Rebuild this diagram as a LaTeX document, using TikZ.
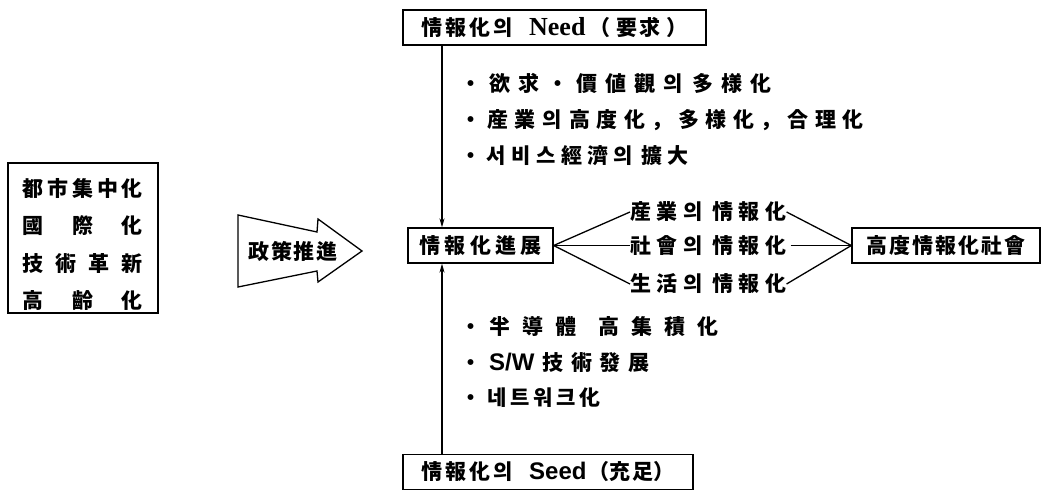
\documentclass[tikz,border=0pt]{standalone}
\usepackage{fontspec}
\setmainfont{Noto Sans CJK KR}
\newfontfamily\lserif{Liberation Serif}
\newfontfamily\lsans{Liberation Sans}
\usetikzlibrary{arrows.meta}
\newcommand{\ls}[1]{\addfontfeatures{LetterSpace=#1}}
\begin{document}
\begin{tikzpicture}[x=1pt,y=-1pt,
  txt/.style={inner sep=0pt,font=\fontsize{21}{24}\selectfont\bfseries},
  box/.style={draw,line width=1.3pt,inner sep=0pt,txt},
  bul/.style={txt,anchor=west},
  arr/.style={line width=1.3pt,-{Stealth[length=9pt,width=5pt]}},
  ln/.style={line width=1.3pt}]
\useasboundingbox (0,0) rectangle (1047,497);
% top and bottom boxes
\node[box,minimum width=303pt,minimum height=35pt] (need) at (554.5,27.5) {{\ls{15}情報化의}\hspace{16pt}{\lserif\fontsize{26}{28}\selectfont\bfseries Need}\hspace{4pt}（\hspace{6pt}{\ls{10}要求}\hspace{6pt}）};
\node[box,minimum width=290pt,minimum height=35pt] (seed) at (548,472) {{\ls{15}情報化의}\hspace{16pt}{\lsans\fontsize{24}{26}\selectfont\bfseries Seed}\hspace{2pt}（{\ls{10}充足}）};
% centre and right
\node[box,minimum width=145pt,minimum height=35pt] (prog) at (480.5,245.5) {\ls{20}情報化進展\hspace{-4pt}};
\node[box,minimum width=188pt,minimum height=35pt] (high) at (946,245.5) {\ls{10}高度情報化社會\hspace{-2pt}};
% left box
\node[draw,line width=1.3pt,minimum width=150pt,minimum height=150pt] (env) at (83,238) {};
\node[txt] (e1) at (83,188) {\makebox[120pt][s]{都\hfill 市\hfill 集\hfill 中\hfill 化}};
\node[txt] (e2) at (83,226) {\makebox[120pt][s]{國\hfill 際\hfill 化}};
\node[txt] (e3) at (83,264) {\makebox[120pt][s]{技\hfill 術\hfill 革\hfill 新}};
\node[txt] (e4) at (83,301) {\makebox[120pt][s]{高\hfill 齡\hfill 化}};
% policy arrow
\draw[line width=1.3pt,line join=miter] (238,215) -- (317,232) -- (318,219) -- (362,251) -- (318,282) -- (317,271) -- (238,287) -- cycle;
\node[txt] (pol) at (293,251) {\ls{8}政策推進};
% vertical connectors
\coordinate (vt) at (442,0);
\draw[arr] (need.south -| vt) -- (prog.north -| vt);
\draw[arr] (seed.north -| vt) -- (prog.south -| vt);
% bullets top
\node[bul] (n1) at (460,83) {\ls{38}・欲求・價値觀의\hspace{10pt}多様化};
\node[bul] (n2) at (460,120) {\ls{30}・産業의\hspace{8pt}高度化，多様化，合理化};
\node[bul] (n3) at (460,156) {\ls{26}・서비스經濟의\hspace{8pt}擴大};
% bullets bottom
\node[bul] (s1) at (460,327) {・\hspace{8pt}半\hspace{12pt}導\hspace{12pt}體\hspace{22pt}高\hspace{12pt}集\hspace{12pt}積\hspace{12pt}化};
\node[bul] (s2) at (460,363) {・\hspace{8pt}{\lsans\fontsize{24}{26}\selectfont\bfseries S/W}\hspace{8pt}{\ls{36}技術發展}};
\node[bul] (s3) at (460,398) {・\hspace{6pt}{\ls{18}네트워크化}};
% branch labels
\node[txt,anchor=west] (b1) at (630,212) {\ls{26}産業의\hspace{10pt}情報化};
\node[txt,anchor=west] (b2) at (630,245.5) {\ls{26}社會의\hspace{10pt}情報化};
\node[txt,anchor=west] (b3) at (630,284) {\ls{26}生活의\hspace{10pt}情報化};
\draw[ln] (prog.east) -- (b1.west);
\draw[ln] (prog.east) -- (b2.west);
\draw[ln] (prog.east) -- (b3.west);
\draw[ln] (b1.east) -- (high.west);
\draw[ln] ([xshift=4pt]b2.east) -- (high.west);
\draw[ln] (b3.east) -- (high.west);
\end{tikzpicture}
\end{document}
